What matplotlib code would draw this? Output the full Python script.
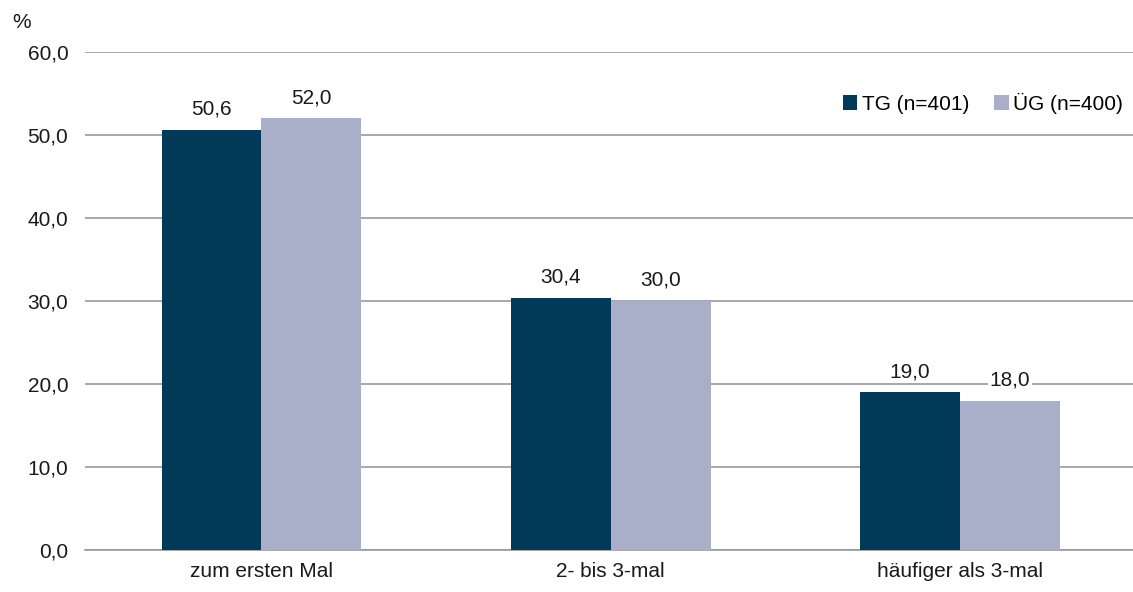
import matplotlib.pyplot as plt
import numpy as np

plt.rcParams['font.family'] = ['Liberation Sans', 'DejaVu Sans']

categories = ['zum ersten Mal', '2- bis 3-mal', 'häufiger als 3-mal']
tg = [50.6, 30.4, 19.0]
ug = [52.0, 30.0, 18.0]
series_names = ['TG (n=401)', 'ÜG (n=400)']
yticks = [0, 10, 20, 30, 40, 50, 60]

c_tg = '#003A58'
c_ug = '#A9AFC8'
txt = '#1a1a1a'

fig = plt.figure(figsize=(11.33, 5.92), dpi=100)
ax = fig.add_axes([0.075, 0.071, 0.925, 0.841])

x = np.arange(len(categories))
w = 100 / 350
b1 = ax.bar(x - w / 2, tg, w, color=c_tg, label=series_names[0], zorder=3)
b2 = ax.bar(x + w / 2, ug, w, color=c_ug, label=series_names[1], zorder=3)

for bars, vals in [(b1, tg), (b2, ug)]:
    for r, v in zip(bars, vals):
        ax.annotate(f'{v:.1f}'.replace('.', ','), (r.get_x() + r.get_width() / 2, v),
                    xytext=(0, 8), textcoords='offset points', ha='center', va='bottom',
                    fontsize=15, color=txt, zorder=4,
                    bbox=dict(facecolor='white', edgecolor='none', pad=1))

ax.set_xlim(-0.505, 2.495)
ax.set_ylim(0, 60)
ax.set_yticks(yticks)
ax.set_yticklabels([f'{t:.1f}'.replace('.', ',') for t in yticks])
ax.set_xticks(x)
ax.set_xticklabels(categories)
ax.yaxis.grid(True, color='#999999', linewidth=1.2, zorder=0)
ax.set_axisbelow(True)
for s in ['top', 'right', 'left']:
    ax.spines[s].set_visible(False)
ax.spines['bottom'].set_color('#999999')
ax.spines['bottom'].set_linewidth(1.2)
ax.tick_params(axis='both', length=0, labelsize=15, colors=txt)
ax.tick_params(axis='y', pad=12)
ax.tick_params(axis='x', pad=9)

fig.text(0.011, 0.962, '%', fontsize=15, color=txt, va='center')

ax.legend(loc='upper right', bbox_to_anchor=(0.998, 0.935), frameon=False, fontsize=15,
          handlelength=0.7, handleheight=0.7, handletextpad=0.2, columnspacing=1.2,
          ncol=2, borderaxespad=0)

fig.savefig('out.png', dpi=100)
